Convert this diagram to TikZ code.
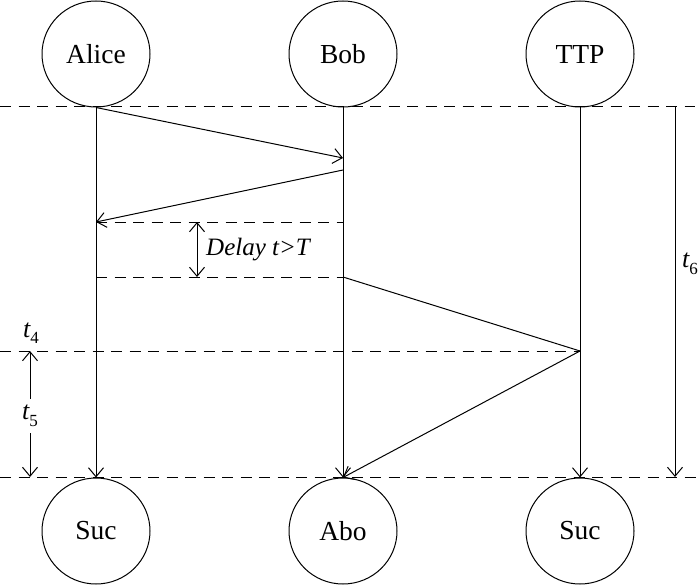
\documentclass[tikz,border=0pt]{standalone}
\usepackage{fontspec}
\setmainfont{Liberation Serif}
\usetikzlibrary{arrows.meta,shapes.geometric}
\newcommand{\sbs}[1]{\raisebox{-0.55ex}{\fontsize{17}{18}\selectfont\upshape #1}}
\begin{document}
\begin{tikzpicture}[x=1pt,y=-1pt,
  party/.style={draw,ellipse,minimum width=108pt,minimum height=106pt,inner sep=0pt,font=\fontsize{27.5}{29}\selectfont,line width=1pt},
  life/.style={line width=1pt},
  msg/.style={line width=1pt,-{Straight Barb[length=9pt,width=15pt,line width=1pt]}},
  dbl/.style={line width=1pt,{Straight Barb[length=9pt,width=15pt,line width=1pt]}-{Straight Barb[length=9pt,width=15pt,line width=1pt]}},
  dline/.style={line width=1pt,dash pattern=on 11pt off 7.5pt},
  lab/.style={font=\fontsize{26}{28}\selectfont\itshape,inner sep=1pt}]
\useasboundingbox (0,0) rectangle (700,585);
% parties
\node[party] (alice) at (96,54) {Alice};
\node[party] (bob) at (343,54) {Bob};
\node[party] (ttp) at (580,54) {TTP};
\node[party] (suc1) at (96,531) {Suc};
\node[party] (abo) at (343,531) {Abo};
\node[party] (suc2) at (580,531) {Suc};
% coordinates
\coordinate (L0) at (0,107);
\coordinate (R0) at (695,107);
\coordinate (L1) at (0,477);
\coordinate (R1) at (700,477);
\coordinate (a1) at (96,222);
\coordinate (a2) at (96,277);
\coordinate (b1) at (343,158);
\coordinate (b2) at (343,170);
\coordinate (b3) at (343,222);
\coordinate (b4) at (343,277);
\coordinate (t1) at (580,351);
\coordinate (L4) at (0,351);
\coordinate (d1) at (197,222);
\coordinate (d2) at (197,277);
\coordinate (f1) at (30,351);
\coordinate (f2) at (30,477);
\coordinate (g1) at (675,107);
\coordinate (g2) at (675,477);
% dashed lines
\draw[dline] (L0) -- (R0);
\draw[dline] (L1) -- (R1);
\draw[dline] (a1) -- (b3);
\draw[dline] (a2) -- (b4);
\draw[dline] (L4) -- (t1);
% lifelines
\draw[msg] (alice.south) -- (suc1.north);
\draw[msg] (bob.south) -- (abo.north);
\draw[msg] (ttp.south) -- (suc2.north);
% messages
\draw[msg] (alice.south) -- (b1);
\draw[msg] (b2) -- (a1);
\draw[life] (b4) -- (t1);
\draw[msg] (t1) -- (abo.north);
% delay
\draw[dbl] (d1) -- (d2);
\node[lab,anchor=west,font=\fontsize{25}{27}\selectfont\itshape] (delay) at (205,250) {Delay t>T};
% t5
\draw[dbl] (f1) -- (f2) node[midway,lab,fill=white,inner ysep=6pt,yshift=-2pt] (t5) {t\sbs{5}};
\node[lab] (t4) at (31,333) {t\sbs{4}};
% t6
\draw[msg] (g1) -- (g2);
\node[lab,anchor=west] (t6) at (681,264) {t\sbs{6}};
\end{tikzpicture}
\end{document}
